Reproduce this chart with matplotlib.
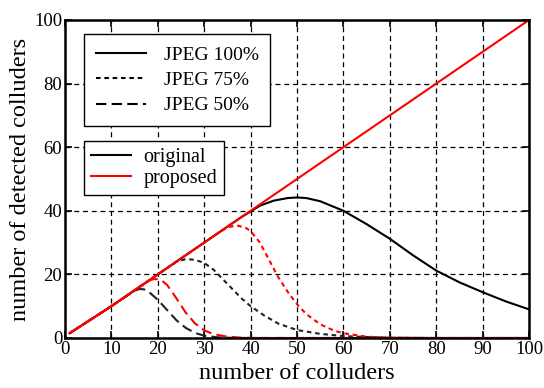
import matplotlib
matplotlib.use("Agg")
import matplotlib.pyplot as plt
from matplotlib.lines import Line2D

plt.rcParams['font.family'] = ['Liberation Serif', 'DejaVu Serif']

# JPEG 100%
x100_prop = [1, 10, 20, 30, 40, 50, 60, 70, 80, 90, 100]
y100_prop = [1.5, 10, 20, 30, 40, 50, 60, 70, 80, 90, 100]
x100_orig = [1, 10, 20, 30, 38, 42, 45, 48, 50, 52, 55, 60, 65, 70, 75, 80, 85, 90, 95, 100]
y100_orig = [1.5, 10, 20, 30, 38, 41.6, 43.2, 44.0, 44.2, 44.0, 43.0, 40.0, 35.8, 31.2, 26.0, 21.2, 17.5, 14.4, 11.5, 9.0]

# JPEG 75%
x75_orig = [1, 10, 20, 22, 24, 26, 28, 30, 32, 35, 38, 40, 43, 46, 50, 55, 60, 65, 70, 80, 100]
y75_orig = [1.5, 10, 20, 22, 24, 24.8, 24.6, 23.6, 21.5, 17.0, 12.5, 10.0, 7.0, 4.5, 2.5, 1.3, 0.6, 0.3, 0.1, 0.0, 0.0]
x75_prop = [1, 10, 20, 30, 33, 35, 37, 39, 40, 42, 44, 46, 48, 50, 52, 55, 58, 60, 65, 70, 80, 100]
y75_prop = [1.5, 10, 20, 30, 33, 34.8, 35.4, 34.6, 33.6, 30.0, 24.5, 19.0, 14.5, 10.6, 7.5, 4.3, 2.3, 1.5, 0.4, 0.1, 0.0, 0.0]

# JPEG 50%
x50_orig = [1, 10, 13, 15, 16, 17, 18, 20, 22, 24, 26, 28, 30, 33, 36, 40, 100]
y50_orig = [1.5, 10, 13, 14.8, 15.4, 15.3, 14.6, 12.0, 8.8, 5.6, 3.2, 1.6, 0.7, 0.2, 0.05, 0.0, 0.0]
x50_prop = [1, 10, 17, 18, 19, 20, 21, 22, 24, 26, 28, 30, 32, 35, 38, 42, 100]
y50_prop = [1.5, 10, 17, 18.0, 18.5, 18.5, 17.9, 16.7, 12.5, 8.0, 4.6, 2.4, 1.2, 0.4, 0.1, 0.0, 0.0]

xticks = [0, 10, 20, 30, 40, 50, 60, 70, 80, 90, 100]
yticks = [0, 20, 40, 60, 80, 100]

fig = plt.figure(figsize=(5.44, 3.88), dpi=100)
ax = fig.add_axes([0.1195, 0.1289, 0.853, 0.8196])

dot = (0, (2.2, 1.8))
dash = (0, (5, 2.5))
lw = 1.5

ax.plot(x100_orig, y100_orig, color='black', lw=lw, linestyle='-')
ax.plot(x75_orig, y75_orig, color='#222222', lw=lw, linestyle=dot)
ax.plot(x50_orig, y50_orig, color='#222222', lw=lw, linestyle=dash)
ax.plot(x75_prop, y75_prop, color='red', lw=lw, linestyle=dot)
ax.plot(x50_prop, y50_prop, color='red', lw=lw, linestyle=dash)
ax.plot(x100_prop, y100_prop, color='red', lw=lw, linestyle='-')

ax.set_xlim(0, 100)
ax.set_ylim(0, 100)
ax.set_xticks(xticks)
ax.set_yticks(yticks)
ax.grid(True, color='black', linestyle=(0, (4, 3)), linewidth=0.9)
ax.tick_params(direction='in', top=True, right=True, length=5, width=1.2, labelsize=13.5, pad=2)
for s in ax.spines.values():
    s.set_linewidth(1.8)

ax.set_xlabel('number of colluders', fontsize=17.5, labelpad=4)
ax.set_ylabel('number of detected colluders', fontsize=17.5, labelpad=2)

h1 = [Line2D([], [], color='black', lw=lw, linestyle='-'),
      Line2D([], [], color='black', lw=lw, linestyle=dot),
      Line2D([], [], color='black', lw=lw, linestyle=dash)]
leg1 = ax.legend(h1, ['JPEG 100%', 'JPEG 75%', 'JPEG 50%'], loc='upper left',
                 bbox_to_anchor=(0.041, 0.955), fancybox=False, edgecolor='black',
                 framealpha=1, fontsize=14, handlelength=2.6, labelspacing=0.4,
                 borderpad=0.6, handletextpad=0.9, borderaxespad=0)
leg1.get_frame().set_linewidth(1.0)
ax.add_artist(leg1)

h2 = [Line2D([], [], color='black', lw=lw), Line2D([], [], color='red', lw=lw)]
leg2 = ax.legend(h2, ['original', 'proposed'], loc='upper left',
                 bbox_to_anchor=(0.041, 0.62), fancybox=False, edgecolor='black',
                 framealpha=1, fontsize=14.5, handlelength=2.0, labelspacing=0.1,
                 borderpad=0.35, handletextpad=0.6, borderaxespad=0)
leg2.get_frame().set_linewidth(1.0)

fig.savefig('out.png', dpi=100)
